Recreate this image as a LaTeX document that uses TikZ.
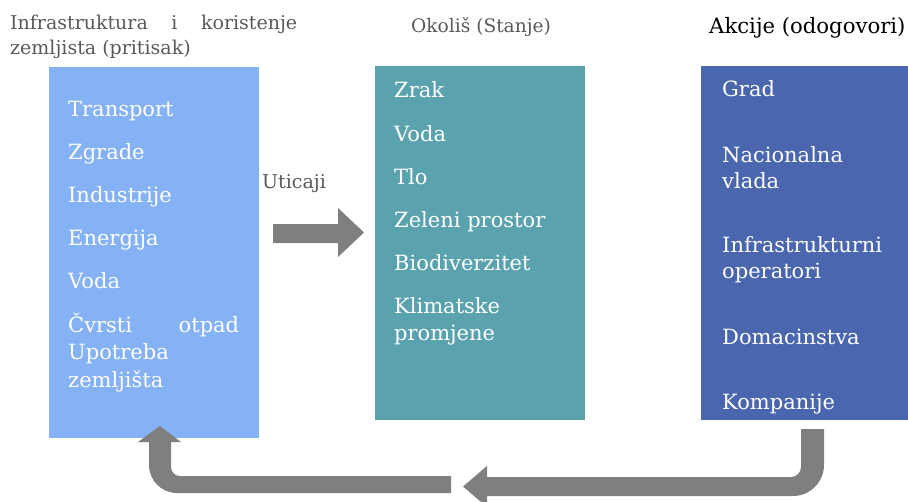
\documentclass[tikz,border=0pt]{standalone}
\usepackage{fontspec}
\setmainfont{DejaVu Serif}
\definecolor{bluea}{HTML}{85B1F5}
\definecolor{teal2}{HTML}{5AA3AE}
\definecolor{blueb}{HTML}{4A66AE}
\definecolor{titlegray}{HTML}{595959}
\definecolor{arrowgray}{HTML}{7F7F7F}
\begin{document}
\begin{tikzpicture}[x=1pt,y=-1pt,
  panel/.style={rectangle, draw=none, inner sep=0pt, anchor=north west},
  item/.style={anchor=base west, inner sep=0pt, text=white, font=\fontsize{21}{25}\selectfont},
  head/.style={anchor=base west, inner sep=0pt, text=titlegray, font=\fontsize{19}{25}\selectfont},
  blockarrow/.style={fill=arrowgray, draw=none}]
\useasboundingbox (0,0) rectangle (908,501);
\clip (0,0) rectangle (908,501);
% panels
\node[panel, fill=bluea, minimum width=210pt, minimum height=371pt] (p1) at (49,67) {};
\node[panel, fill=teal2, minimum width=210pt, minimum height=354pt] (p2) at (375,66) {};
\node[panel, fill=blueb, minimum width=207pt, minimum height=354pt] (p3) at (701,66) {};
% headings
\node[head] (h1a) at (10,29) {\makebox[287pt][s]{Infrastruktura\hfill i\hfill koristenje}};
\node[head] (h1b) at (10,54) {zemljista (pritisak)};
\node[head, font=\fontsize{18.6}{25}\selectfont] (h2) at (411,32) {Okoliš (Stanje)};
\node[head, text=black, font=\fontsize{21.2}{25}\selectfont] (h3) at (709,33) {Akcije (odogovori)};
\node[head, font=\fontsize{19}{25}\selectfont] (ut) at (262,188) {Uticaji};
% panel 1 items
\node[item] (t1) at (68,116) {Transport};
\node[item] (t2) at (68,159) {Zgrade};
\node[item] (t3) at (68,202) {Industrije};
\node[item] (t4) at (68,245) {Energija};
\node[item] (t5) at (68,288) {Voda};
\node[item] (t6) at (68,332) {\makebox[171pt][s]{Čvrsti\hfill otpad}};
\node[item] (t7) at (68,359) {Upotreba};
\node[item] (t8) at (68,387) {zemljišta};
% panel 2 items
\node[item] (s1) at (394,97) {Zrak};
\node[item] (s2) at (394,141) {Voda};
\node[item] (s3) at (394,184) {Tlo};
\node[item] (s4) at (394,227) {Zeleni prostor};
\node[item] (s5) at (394,270) {Biodiverzitet};
\node[item] (s6) at (394,313) {Klimatske};
\node[item] (s7) at (394,340) {promjene};
% panel 3 items
\node[item] (r1) at (722,96) {Grad};
\node[item] (r2) at (722,162) {Nacionalna};
\node[item] (r3) at (722,188) {vlada};
\node[item] (r4) at (722,252) {Infrastrukturni};
\node[item] (r5) at (722,278) {operatori};
\node[item] (r6) at (722,344) {Domacinstva};
\node[item] (r7) at (722,409) {Kompanije};
% impact arrow
\fill[blockarrow] (273,224) -- (338,224) -- (338,208) -- (364,232.5) -- (338,257) -- (338,243) -- (273,243) -- cycle;
% return arrow, right part
\fill[blockarrow] (801,429) -- (824,429) -- (824,465)
  .. controls (824,482) and (810,496) .. (793,496)
  -- (487,496) -- (487,507) -- (463,486.5) -- (487,466) -- (487,477) -- (791,477)
  .. controls (796.5,477) and (801,472.5) .. (801,467) -- cycle;
% return arrow, left part
\fill[blockarrow] (451,476) -- (451,493) -- (177,493)
  .. controls (161.5,493) and (149,480.5) .. (149,465)
  -- (149,442) -- (138,442) -- (160,426) -- (181,442) -- (171,442) -- (171,467)
  .. controls (171,472) and (175,476) .. (180,476) -- cycle;
\end{tikzpicture}
\end{document}
